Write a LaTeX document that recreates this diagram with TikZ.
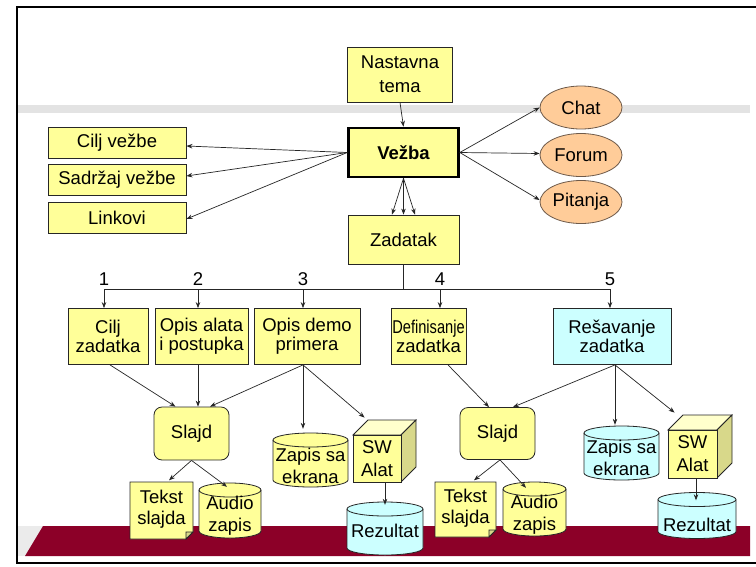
\documentclass[tikz,border=0pt]{standalone}
\usepackage{graphicx}
\usepackage{fontspec}
\setmainfont{Liberation Sans}
\usetikzlibrary{arrows.meta,calc,shapes.geometric}
\definecolor{yel}{HTML}{FFFF99}
\definecolor{yeltop}{HTML}{FFFFCC}
\definecolor{yelside}{HTML}{D8D88A}
\definecolor{cyanf}{HTML}{CCFFFF}
\definecolor{peach}{HTML}{FFCC99}
\definecolor{peachedge}{HTML}{6E5A4A}
\definecolor{maroon}{RGB}{140,0,40}
\definecolor{band}{HTML}{E3E3E3}
\newcommand{\cylshape}[5]{%
  \pgfmathsetmacro\myCrx{#3/2}%
  \pgfmathsetmacro\myCl{#1-#3/2}%
  \pgfmathsetmacro\myCr{#1+#3/2}%
  \pgfmathsetmacro\myCt{#2-#4/2+7}%
  \pgfmathsetmacro\myCb{#2+#4/2-7}%
  \path[shapeline,fill=#5] (\myCl,\myCt) -- (\myCl,\myCb)
     arc[start angle=180,end angle=0,x radius=\myCrx,y radius=7] -- (\myCr,\myCt)
     arc[start angle=0,end angle=-180,x radius=\myCrx,y radius=7] -- cycle;
  \draw[shapeline] (\myCl,\myCt) arc[start angle=180,end angle=0,x radius=\myCrx,y radius=7];
}
\newcommand{\cubeshape}[5]{%
  \pgfmathsetmacro\myQl{#1-#3/2}%
  \pgfmathsetmacro\myQr{#1+#3/2}%
  \pgfmathsetmacro\myQt{#2-#4/2}%
  \pgfmathsetmacro\myQb{#2+#4/2}%
  \path[shapeline,fill=yeltop] (\myQl,\myQt) -- (\myQl+#5,\myQt-#5) -- (\myQr+#5,\myQt-#5) -- (\myQr,\myQt) -- cycle;
  \path[shapeline,fill=yelside] (\myQr,\myQt) -- (\myQr+#5,\myQt-#5) -- (\myQr+#5,\myQb-#5) -- (\myQr,\myQb) -- cycle;
}
\newcommand{\noteshape}[4]{%
  \pgfmathsetmacro\myNl{#1-#3/2}%
  \pgfmathsetmacro\myNr{#1+#3/2}%
  \pgfmathsetmacro\myNt{#2-#4/2}%
  \pgfmathsetmacro\myNb{#2+#4/2}%
  \path[shapeline,fill=yel] (\myNl,\myNt) -- (\myNr,\myNt) -- (\myNr,\myNb-7) -- (\myNr-7,\myNb) -- (\myNl,\myNb) -- cycle;
  \path[shapeline,fill=yelside] (\myNr,\myNb-7) -- (\myNr-7,\myNb) -- (\myNr-7,\myNb-7) -- cycle;
}
\begin{document}
\begin{tikzpicture}[x=1pt,y=-1pt,
  every node/.style={font=\fontsize{18.5}{22}\selectfont, inner sep=0pt, align=center},
  shapeline/.style={draw=black!85, line width=0.8pt},
  box/.style={draw=black!85, line width=0.8pt, fill=yel},
  two/.style={font=\fontsize{18.5}{19}\selectfont},
  oval/.style={shape=ellipse, draw=peachedge, line width=0.8pt, fill=peach, minimum width=82, minimum height=43},
  ghost/.style={draw=none, fill=none},
  arr/.style={-{Stealth[length=6pt,width=4.5pt]}, line width=0.7pt, draw=black!85},
  ln/.style={line width=0.7pt, draw=black!85}
]
\useasboundingbox (0,0) rectangle (756,566);
\fill[white] (0,0) rectangle (756,566);
% background
\fill[band] (18,105) rectangle (750,113);
\fill[black!8] (18,526) rectangle (750,556);
\fill[maroon] (43,526) -- (750,526) -- (750,556) -- (25,556) -- cycle;
\draw[line width=2.5pt] (760,7) -- (17,7) -- (17,563) -- (760,563);

% top part
\node[box, minimum width=105, minimum height=55, font=\fontsize{18.5}{24}\selectfont] (nast) at (400,74.5) {Nastavna\\tema};
\node[box, line width=2.6pt, draw=black, minimum width=110, minimum height=49, font=\bfseries\fontsize{18.5}{22}\selectfont] (vezba) at (403.5,152.5) {Vežba};
\node[box, minimum width=111, minimum height=49] (zad) at (403.5,239.5) {Zadatak};
\node[box, minimum width=138, minimum height=31] (cv) at (117,142.5) {Cilj vežbe};
\node[box, minimum width=138, minimum height=31] (sv) at (117,180) {Sadržaj vežbe};
\node[box, minimum width=138, minimum height=31] (lk) at (117,217.5) {Linkovi};
\node[oval] (chat) at (581,107.5) {Chat};
\node[oval] (forum) at (581,155) {Forum};
\node[oval] (pit) at (581,202) {Pitanja};

\draw[arr] (nast.south) -- (vezba.north);
\draw[arr] (vezba.west) -- ($(cv.east)+(0,3.5)$);
\draw[arr] (vezba.west) -- ($(sv.east)+(0,-4)$);
\draw[arr] (vezba.west) -- ($(lk.east)+(0,1.5)$);
\draw[arr] (vezba.east) -- (chat.west);
\draw[arr] (vezba.east) -- ($(forum.west)+(0,-1.5)$);
\draw[arr] (vezba.east) -- ($(pit.west)+(0,-2)$);
\draw[arr] (vezba.south) -- ($(zad.north)+(-11.5,0)$);
\draw[arr] (vezba.south) -- (zad.north);
\draw[arr] (vezba.south) -- ($(zad.north)+(11.5,0)$);

% middle row
\node[box, two, minimum width=80, minimum height=56] (cz) at (108,336.5) {Cilj\\zadatka};
\node[box, two, minimum width=93, minimum height=56] (oa) at (201.5,336.5) {Opis alata\\i postupka};
\node[box, two, minimum width=106, minimum height=56] (od) at (307,336.5) {Opis demo\\primera};
\node[box, two, minimum width=75, minimum height=56] (dz) at (428.5,336.5) {\scalebox{0.79}[1]{Definisanje}\\zadatka};
\node[box, two, fill=cyanf, minimum width=118, minimum height=56] (rz) at (612,336.5) {Rešavanje\\zadatka};

\coordinate (d1) at (104,289);
\coordinate (d2) at (198,289);
\coordinate (d3) at (303,289);
\coordinate (d4) at (440,289);
\coordinate (d5) at (610,289);
\draw[ln] (zad.south) -- (zad.south |- d1);
\draw[ln] (d1) -- (d5);
\draw[arr] (d1) -- (d1 |- cz.north);
\draw[arr] (d2) -- (d2 |- oa.north);
\draw[arr] (d3) -- (d3 |- od.north);
\draw[arr] (d4) -- (d4 |- dz.north);
\draw[arr] (d5) -- (d5 |- rz.north);
\node (n1) at ($(d1)+(0,-10)$) {1};
\node (n2) at ($(d2)+(0,-10)$) {2};
\node (n3) at ($(d3)+(0,-10)$) {3};
\node (n4) at ($(d4)+(0,-10)$) {4};
\node (n5) at ($(d5)+(0,-10)$) {5};

% lower left group
\node[box, rounded corners=8pt, minimum width=75, minimum height=53] (sl1) at (191.5,433.5) {Slajd};
\cylshape{310.5}{460}{75}{54}{yel}
\node[ghost, minimum width=75, minimum height=54] (zap1) at (310.5,460) {};
\node (zap1t) at (310.5,465.5) {Zapis sa\\ekrana};
\cubeshape{377}{458.5}{48}{47}{15}
\node[box, minimum width=48, minimum height=47, font=\fontsize{18.5}{23}\selectfont] (sw1) at (377,458.5) {SW\\Alat};
\cylshape{385}{528.5}{76}{53}{cyanf}
\node[ghost, minimum width=76, minimum height=53] (rez1) at (385,528.5) {};
\node (rez1t) at (385,531) {Rezultat};
\noteshape{161.5}{510.5}{63}{57}
\node[ghost, minimum width=63, minimum height=57, font=\fontsize{18.5}{21}\selectfont] (tek1) at (161.5,509) {Tekst\\slajda};
\cylshape{230}{510.5}{62}{55}{yel}
\node[ghost, minimum width=62, minimum height=55] (aud1) at (230,510.5) {};
\node (aud1t) at (230,516) {Audio\\zapis};

\draw[arr] ($(cz.south)+(2,0)$) -- ($(sl1.north)+(-16,0)$);
\draw[arr] ($(oa.south)+(-3.5,0)$) -- ($(sl1.north)+(6.5,0)$);
\draw[arr] ($(od.south)+(-4,0)$) -- ($(sl1.north)+(18.5,0)$);
\draw[arr] ($(od.south)+(-4,0)$) -- ($(zap1.north)+(-7.5,-4)$);
\draw[arr] ($(od.south)+(-4,0)$) -- ($(sw1.north west)+(12,-17)$);
\draw[arr] (rez1.north |- sw1.south) -- ($(rez1.north)+(0,3)$);
\draw[arr] (sl1.south) -- ($(tek1.north)+(7.5,0)$);
\draw[arr] (sl1.south) -- ($(aud1.north)+(-3,4)$);

% lower right group
\node[box, rounded corners=8pt, minimum width=75, minimum height=52] (sl2) at (497.5,433.5) {Slajd};
\cylshape{621.5}{453}{75}{54}{cyanf}
\node[ghost, minimum width=75, minimum height=54] (zap2) at (621.5,453) {};
\node (zap2t) at (621.5,458) {Zapis sa\\ekrana};
\cubeshape{692.5}{454}{49}{48}{15}
\node[box, minimum width=49, minimum height=48, font=\fontsize{18.5}{23}\selectfont] (sw2) at (692.5,454) {SW\\Alat};
\cylshape{697}{515.5}{78}{46}{cyanf}
\node[ghost, minimum width=78, minimum height=46] (rez2) at (697,515.5) {};
\node (rez2t) at (697,525) {Rezultat};
\noteshape{465.5}{509.5}{61}{55}
\node[ghost, minimum width=61, minimum height=55, font=\fontsize{18.5}{21}\selectfont] (tek2) at (465.5,508) {Tekst\\slajda};
\cylshape{534.5}{509}{63}{54}{yel}
\node[ghost, minimum width=63, minimum height=54] (aud2) at (534.5,509) {};
\node (aud2t) at (534.5,514.5) {Audio\\zapis};

\draw[arr] ($(dz.south)+(19.5,0)$) -- ($(sl2.north)+(-8.5,0)$);
\draw[arr] ($(rz.south)+(3,0)$) -- ($(sl2.north)+(15.5,0)$);
\draw[arr] ($(rz.south)+(3,0)$) -- ($(zap2.north)+(-6.5,-1)$);
\draw[arr] ($(rz.south)+(3,0)$) -- ($(sw2.north west)+(7,-17)$);
\draw[arr] ($(rez2.north |- sw2.south)+(-1,0)$) -- ($(rez2.north)+(-1,8)$);
\draw[arr] ($(sl2.south)+(2.5,0)$) -- ($(tek2.north)+(8.5,0)$);
\draw[arr] ($(sl2.south)+(2.5,0)$) -- ($(aud2.north)+(-8.5,6)$);
\end{tikzpicture}
\end{document}
